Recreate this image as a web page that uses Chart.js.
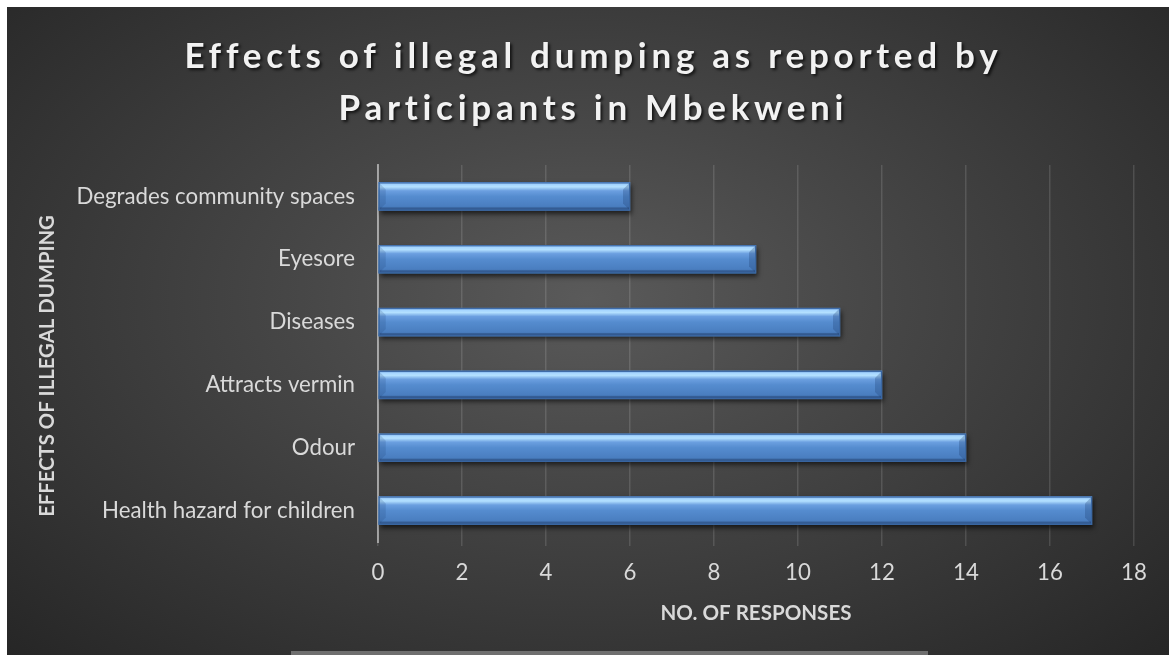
<!DOCTYPE html>
<html>
<head>
<meta charset="utf-8">
<script src="https://cdn.jsdelivr.net/npm/chart.js@4.4.1/dist/chart.umd.min.js"></script>
<style>
    body { margin: 0; background: #ffffff; }
    #wrap {
        position: absolute; left: 7px; top: 7px; width: 1162px; height: 648px;
        background: radial-gradient(ellipse farthest-corner at 50% 45%, #5a5a5a 0%, #474747 35%, #262626 100%);
    }
    #strip {
        position: absolute; left: 291px; top: 651px; width: 637px; height: 4px; background: #6f6f6f;
    }
</style>
</head>
<body>
<div id="wrap"><canvas id="chart"></canvas></div>
<div id="strip"></div>
<script>
// categories, top to bottom
const categories = [
    "Degrades community spaces",
    "Eyesore",
    "Diseases",
    "Attracts vermin",
    "Odour",
    "Health hazard for children"
];
const responses = [6, 9, 11, 12, 14, 17];
const xTicks = [0, 2, 4, 6, 8, 10, 12, 14, 16, 18];

const titleLines = ["Effects of illegal dumping as reported by", "Participants in Mbekweni"];
const yTitle = "EFFECTS OF ILLEGAL DUMPING";
const xTitle = "NO. OF RESPONSES";

const family = "Lato";
const labelColor = "#d9d9d9";

// pick a font size so that a text gets a given width
function fitSize(text, weight, width) {
    const c = document.createElement("canvas").getContext("2d");
    c.font = weight + " 100px " + family;
    return 100 * width / c.measureText(text).width;
}
const tickSize = fitSize("Health hazard for children", "normal", 253);
const yTitleSize = fitSize(yTitle, "bold", 302);
const xTitleSize = fitSize(xTitle, "bold", 191);

const titleSize = 35;
const titleSpacing = (function () {
    const c = document.createElement("canvas").getContext("2d");
    c.font = "bold " + titleSize + "px " + family;
    return (812 - c.measureText(titleLines[0]).width) / (titleLines[0].length - 1);
})();

// chart title (letter-spaced) and the y axis title drawn by hand
const titlePlugin = {
    id: "spacedTitle",
    afterDraw(chart) {
        const ctx = chart.ctx;
        ctx.save();
        ctx.font = "bold " + titleSize + "px " + family;
        ctx.letterSpacing = titleSpacing + "px";
        ctx.textAlign = "center";
        ctx.textBaseline = "alphabetic";
        ctx.fillStyle = "#f2f2f2";
        ctx.shadowColor = "rgba(0,0,0,0.7)";
        ctx.shadowBlur = 3;
        ctx.shadowOffsetX = 2;
        ctx.shadowOffsetY = 2;
        ctx.fillText(titleLines[0], 584 + titleSpacing / 2, 61);
        ctx.fillText(titleLines[1], 584 + titleSpacing / 2, 113);
        ctx.restore();

        ctx.save();
        ctx.translate(40, 359);
        ctx.rotate(-Math.PI / 2);
        ctx.font = "bold " + yTitleSize + "px " + family;
        ctx.textAlign = "center";
        ctx.textBaseline = "middle";
        ctx.fillStyle = labelColor;
        ctx.fillText(yTitle, 0, 0);
        ctx.restore();
    }
};

// shadow under bars + bevel overlay
const bevelPlugin = {
    id: "bevel",
    beforeDatasetDraw(chart) {
        const ctx = chart.ctx;
        ctx.save();
        ctx.shadowColor = "rgba(0,0,0,0.65)";
        ctx.shadowBlur = 5;
        ctx.shadowOffsetX = 2;
        ctx.shadowOffsetY = 3;
    },
    afterDatasetDraw(chart) {
        const ctx = chart.ctx;
        ctx.restore();
        const meta = chart.getDatasetMeta(0);
        meta.data.forEach(function (bar) {
            const left = Math.min(bar.base, bar.x);
            const right = Math.max(bar.base, bar.x);
            const top = bar.y - bar.height / 2;
            const bottom = bar.y + bar.height / 2;
            const b = 7;
            ctx.save();
            const g = ctx.createLinearGradient(0, top, 0, bottom);
            g.addColorStop(0, "#6f9fdc");
            g.addColorStop(0.08, "#a6d6ff");
            g.addColorStop(0.16, "#b3e0ff");
            g.addColorStop(0.3, "#6b9fe0");
            g.addColorStop(0.5, "#558ccf");
            g.addColorStop(0.85, "#4a7ec0");
            g.addColorStop(1, "#3c68a2");
            ctx.fillStyle = g;
            ctx.fillRect(left, top, right - left, bottom - top);
            // bevels at the two ends
            ctx.fillStyle = "rgba(30,60,110,0.28)";
            ctx.beginPath();
            ctx.moveTo(right, top); ctx.lineTo(right, bottom); ctx.lineTo(right - b, bottom - b); ctx.lineTo(right - b, top + b);
            ctx.closePath(); ctx.fill();
            ctx.fillStyle = "rgba(30,60,110,0.18)";
            ctx.beginPath();
            ctx.moveTo(left, top); ctx.lineTo(left, bottom); ctx.lineTo(left + b, bottom - b); ctx.lineTo(left + b, top + b);
            ctx.closePath(); ctx.fill();
            ctx.fillStyle = "rgba(20,40,80,0.3)";
            ctx.fillRect(left, bottom - 3, right - left, 3);
            ctx.strokeStyle = "#3a67a3";
            ctx.lineWidth = 1;
            ctx.strokeRect(left + 0.5, top + 0.5, right - left - 1, bottom - top - 1);
            ctx.restore();
        });
    }
};

const ctx = document.getElementById("chart").getContext("2d");

new Chart(ctx, {
    type: "bar",
    data: {
        labels: categories,
        datasets: [{
            data: responses,
            backgroundColor: "#4f81bd",
            barThickness: 28
        }]
    },
    plugins: [bevelPlugin, titlePlugin],
    options: {
        indexAxis: "y",
        responsive: true,
        maintainAspectRatio: false,
        animation: false,
        layout: { padding: { left: 0, right: 35, top: 158, bottom: 0 } },
        plugins: {
            legend: { display: false },
            tooltip: { enabled: false },
            title: { display: false }
        },
        scales: {
            x: {
                min: 0,
                max: 18,
                afterBuildTicks(scale) {
                    scale.ticks = xTicks.map(v => ({ value: v }));
                },
                afterFit(scale) { scale.height = 113; },
                grid: {
                    color: "rgba(255,255,255,0.13)",
                    lineWidth: 1.5,
                    tickLength: 4
                },
                border: { display: false },
                ticks: {
                    color: labelColor,
                    padding: 31 - 4 - tickSize * 0.6,
                    font: { family: family, size: tickSize }
                },
                title: {
                    display: true,
                    text: xTitle,
                    color: labelColor,
                    font: { family: family, size: xTitleSize, weight: "bold" },
                    padding: { top: 0, bottom: 42 - xTitleSize * 0.6 }
                }
            },
            y: {
                afterFit(scale) { scale.width = 371; },
                grid: { display: false, drawTicks: false },
                border: { display: true, color: "rgba(217,217,217,0.6)", width: 2 },
                ticks: {
                    color: labelColor,
                    padding: 23,
                    font: { family: family, size: tickSize }
                },
                title: { display: false }
            }
        }
    }
});
</script>
</body>
</html>
